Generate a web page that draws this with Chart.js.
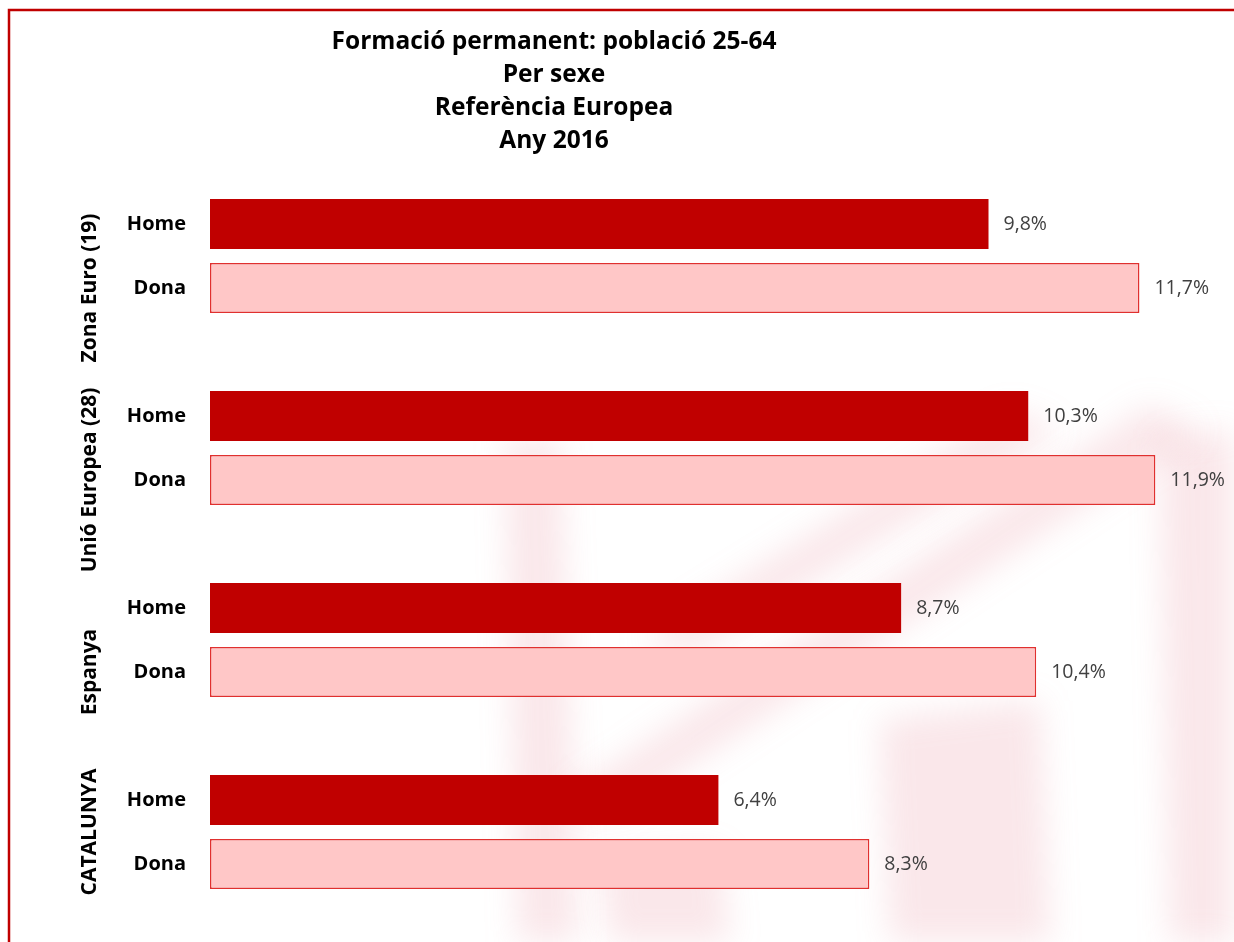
<!DOCTYPE html>
<html>
<head>
<meta charset="utf-8">
<script src="https://cdn.jsdelivr.net/npm/chart.js@4"></script>
<style>
  body { margin: 0; background: #fff; }
  #wrap { width: 1234px; height: 942px; }
</style>
</head>
<body>
<div id="wrap"><canvas id="chart" width="1234" height="942"></canvas></div>
<script>
// Formació permanent 25-64, per sexe, any 2016
const titleLines = ['Formació permanent: població 25-64', 'Per sexe', 'Referència Europea', 'Any 2016'];
const groups = ['Zona Euro (19)', 'Unió Europea (28)', 'Espanya', 'CATALUNYA'];
const sexes = ['Home', 'Dona'];
const homeValues = [9.8, 10.3, 8.7, 6.4];
const donaValues = [11.7, 11.9, 10.4, 8.3];

// one row per bar, plus an empty spacer row between groups
const labels = [];
const homeData = [];
const donaData = [];
const groupSlots = [];
groups.forEach((g, i) => {
    const start = labels.length;
    labels.push(sexes[0]); homeData.push(homeValues[i]); donaData.push(null);
    labels.push(sexes[1]); homeData.push(null); donaData.push(donaValues[i]);
    if (i < groups.length - 1) { labels.push(''); homeData.push(null); donaData.push(null); }
    groupSlots.push([start, labels.length - 1]);
});

const fmt = v => v.toFixed(1).replace('.', ',') + '%';
const FONT = '"Open Sans", sans-serif';

// faint blurred logo behind the plot (decoration only)
const watermark = [
    [[505, 440], [560, 440], [578, 942], [518, 942]],
    [[560, 800], [615, 815], [1200, 430], [1150, 405]],
    [[640, 640], [690, 655], [1060, 430], [1010, 410]],
    [[1160, 440], [1234, 430], [1234, 942], [1170, 942]],
    [[880, 720], [1040, 700], [1050, 942], [890, 942]],
    [[600, 860], [720, 850], [730, 942], [610, 942]]
];

const frame = {
    id: 'frame',
    beforeDraw(chart) {
        const c = chart.ctx;
        c.save();
        c.fillStyle = '#fff';
        c.fillRect(0, 0, chart.width, chart.height);
        c.filter = 'blur(16px)';
        c.fillStyle = 'rgba(225, 110, 130, 0.17)';
        watermark.forEach(poly => {
            c.beginPath();
            poly.forEach((p, k) => k ? c.lineTo(p[0], p[1]) : c.moveTo(p[0], p[1]));
            c.closePath();
            c.fill();
        });
        c.filter = 'none';
        c.strokeStyle = '#c00000';
        c.lineWidth = 2.5;
        c.beginPath();
        c.moveTo(9, chart.height);
        c.lineTo(9, 10);
        c.lineTo(chart.width, 10);
        c.stroke();
        c.restore();
    },
    afterDraw(chart) {
        const c = chart.ctx;
        const y = chart.scales.y;
        c.save();
        // title
        c.fillStyle = '#000';
        c.font = 'bold 24.5px ' + FONT;
        c.textAlign = 'center';
        c.textBaseline = 'middle';
        titleLines.forEach((t, i) => c.fillText(t, 554, 42 + i * 33));
        // group labels, rotated
        c.font = 'bold 21px ' + FONT;
        const half = (y.getPixelForValue(1) - y.getPixelForValue(0)) / 2;
        groupSlots.forEach((s, i) => {
            const top = y.getPixelForValue(s[0]) - half;
            const bottom = y.getPixelForValue(s[1]) + half;
            c.save();
            c.translate(90, (top + bottom) / 2);
            c.rotate(-Math.PI / 2);
            c.fillText(groups[i], 0, 0);
            c.restore();
        });
        // value labels
        c.fillStyle = '#404040';
        c.font = '19.5px ' + FONT;
        c.textAlign = 'left';
        chart.data.datasets.forEach((ds, di) => {
            const meta = chart.getDatasetMeta(di);
            meta.data.forEach((bar, j) => {
                const v = ds.data[j];
                if (v == null) return;
                c.fillText(fmt(v), bar.x + 15, bar.y);
            });
        });
        c.restore();
    }
};

new Chart(document.getElementById('chart'), {
    type: 'bar',
    data: {
        labels,
        datasets: [
            {
                label: 'Home',
                data: homeData,
                backgroundColor: '#c00000',
                borderWidth: 0,
                grouped: false,
                barPercentage: 0.78,
                categoryPercentage: 1
            },
            {
                label: 'Dona',
                data: donaData,
                backgroundColor: '#ffc7c7',
                borderColor: '#e0302f',
                borderWidth: 1.5,
                borderSkipped: false,
                grouped: false,
                barPercentage: 0.78,
                categoryPercentage: 1
            }
        ]
    },
    options: {
        indexAxis: 'y',
        responsive: false,
        animation: false,
        layout: { padding: { left: 0, top: 192, right: 31, bottom: 46 } },
        plugins: {
            legend: { display: false },
            title: { display: false },
            tooltip: { enabled: false }
        },
        scales: {
            x: { display: false, min: 0, max: 12.5 },
            y: {
                grid: { display: false, drawTicks: false },
                border: { display: false },
                ticks: {
                    padding: 24,
                    color: '#000',
                    font: { family: FONT, size: 20, weight: 'bold' }
                },
                afterFit(scale) { scale.width = 210; }
            }
        }
    },
    plugins: [frame]
});
</script>
</body>
</html>
